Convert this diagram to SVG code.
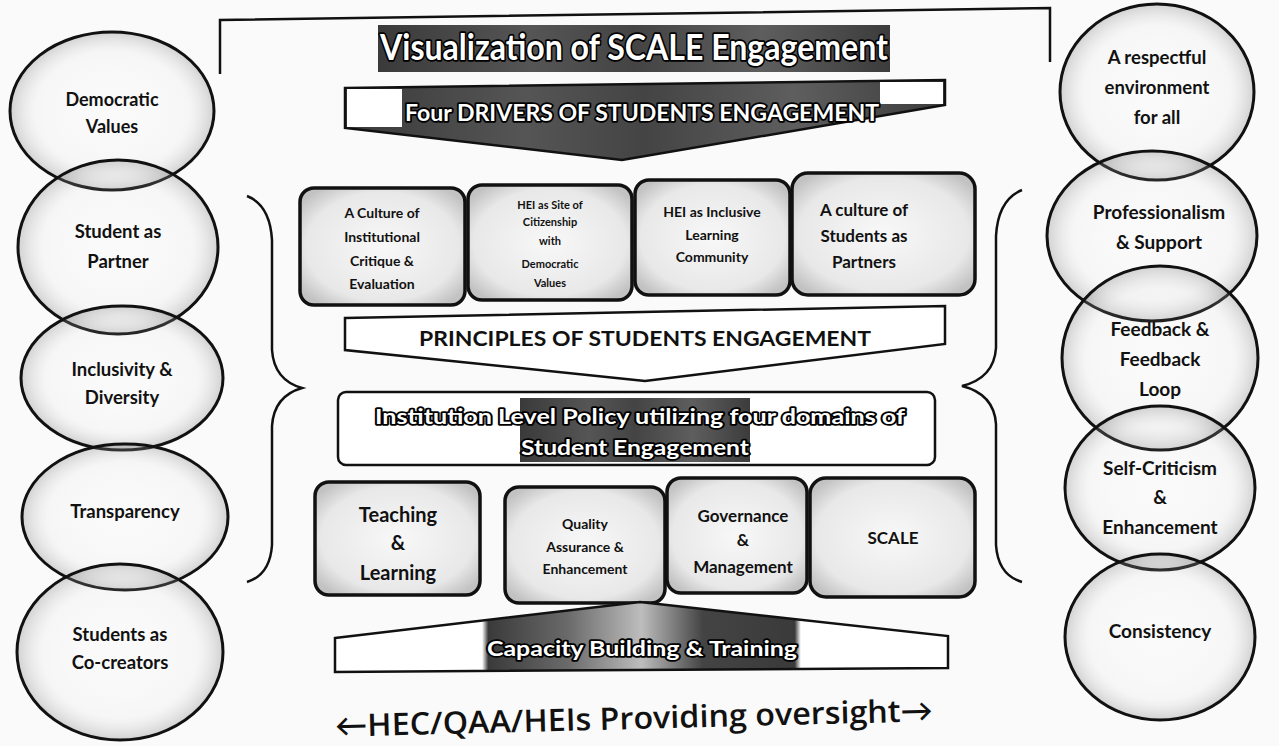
<svg xmlns="http://www.w3.org/2000/svg" width="1279" height="746" viewBox="0 0 1279 746">
<defs>
<radialGradient id="cg" cx="50%" cy="50%" r="50%">
<stop offset="0" stop-color="#ffffff" stop-opacity="0"/>
<stop offset="0.75" stop-color="#d8d8d8" stop-opacity="0.12"/>
<stop offset="1" stop-color="#7a7a7a" stop-opacity="0.32"/>
</radialGradient>
<radialGradient id="bg" cx="50%" cy="50%" r="62%">
<stop offset="0" stop-color="#f8f8f8"/>
<stop offset="0.75" stop-color="#e8e8e8"/>
<stop offset="1" stop-color="#c2c2c2"/>
</radialGradient>
<linearGradient id="dk" x1="0" y1="0" x2="1" y2="0">
<stop offset="0" stop-color="#3a3a3a"/>
<stop offset="0.3" stop-color="#555"/>
<stop offset="0.5" stop-color="#444"/>
<stop offset="0.75" stop-color="#5e5e5e"/>
<stop offset="1" stop-color="#3c3c3c"/>
</linearGradient>
<linearGradient id="cap" x1="0" y1="0" x2="1" y2="0">
<stop offset="0" stop-color="#fff"/>
<stop offset="0.24" stop-color="#fff"/>
<stop offset="0.25" stop-color="#3a3a3a"/>
<stop offset="0.38" stop-color="#6a6a6a"/>
<stop offset="0.5" stop-color="#bdbdbd"/>
<stop offset="0.6" stop-color="#444"/>
<stop offset="0.75" stop-color="#3a3a3a"/>
<stop offset="0.76" stop-color="#fff"/>
<stop offset="1" stop-color="#fff"/>
</linearGradient>
<style>
.c{fill:url(#cg);stroke:#111;stroke-width:3}
.b{fill:url(#bg);stroke:#111;stroke-width:3.5}
.t{font-family:Lato,"Open Sans","Liberation Sans",sans-serif;font-weight:bold;fill:#111;text-anchor:middle}
.o{font-family:Lato,"Open Sans","Liberation Sans",sans-serif;font-weight:bold;fill:#fff;stroke:#000;stroke-width:3.5;paint-order:stroke;stroke-linejoin:round;text-anchor:middle}
.ln{fill:none;stroke:#111;stroke-width:2.5}
</style>
</defs>
<rect width="1279" height="746" fill="#fafafa"/>

<!-- left circles -->
<g id="democratic-values"><ellipse class="c" cx="112" cy="111" rx="102" ry="79"/>
<text class="t" font-size="18" x="112" y="106">Democratic</text><text class="t" font-size="18" x="112" y="133">Values</text></g>
<g id="student-as-partner"><ellipse class="c" cx="118" cy="247" rx="100" ry="87"/>
<text class="t" font-size="18.5" x="118" y="238">Student as</text><text class="t" font-size="18.5" x="118" y="268">Partner</text></g>
<g id="inclusivity-diversity"><ellipse class="c" cx="122" cy="378" rx="101" ry="72"/>
<text class="t" font-size="18.5" x="122" y="376">Inclusivity &amp;</text><text class="t" font-size="18.5" x="122" y="404">Diversity</text></g>
<g id="transparency"><ellipse class="c" cx="125" cy="517" rx="103" ry="73"/>
<text class="t" font-size="18.5" x="125" y="518">Transparency</text></g>
<g id="students-co-creators"><ellipse class="c" cx="120" cy="652" rx="103" ry="88"/>
<text class="t" font-size="18.5" x="120" y="641">Students as</text><text class="t" font-size="18.5" x="120" y="669">Co-creators</text></g>

<!-- right circles -->
<g id="respectful-environment"><ellipse class="c" cx="1157" cy="92" rx="97" ry="88"/>
<text class="t" font-size="18.5" x="1157" y="64">A respectful</text><text class="t" font-size="18.5" x="1157" y="94">environment</text><text class="t" font-size="18.5" x="1157" y="124">for all</text></g>
<g id="professionalism-support"><ellipse class="c" cx="1152" cy="236" rx="105" ry="85"/>
<text class="t" font-size="19" x="1159" y="219">Professionalism</text><text class="t" font-size="19" x="1159" y="249">&amp; Support</text></g>
<g id="feedback-loop"><ellipse class="c" cx="1160" cy="358" rx="98" ry="92"/>
<text class="t" font-size="19" x="1160" y="336">Feedback &amp;</text><text class="t" font-size="19" x="1160" y="366">Feedback</text><text class="t" font-size="19" x="1160" y="396">Loop</text></g>
<g id="self-criticism"><ellipse class="c" cx="1160" cy="488" rx="95" ry="82"/>
<text class="t" font-size="19" x="1160" y="475">Self-Criticism</text><text class="t" font-size="19" x="1160" y="504">&amp;</text><text class="t" font-size="19" x="1160" y="534">Enhancement</text></g>
<g id="consistency"><ellipse class="c" cx="1160" cy="637" rx="95" ry="83"/>
<text class="t" font-size="19" x="1160" y="638">Consistency</text></g>

<!-- title -->
<g id="title">
<path class="ln" d="M220,74 L220,20 L1050,8 L1050,62"/>
<rect x="378" y="25" width="512" height="47" fill="url(#dk)"/>
<text class="o" font-size="36" x="634" y="60" textLength="508" lengthAdjust="spacingAndGlyphs">Visualization of SCALE Engagement</text>
</g>

<!-- four drivers -->
<g id="four-drivers">
<polygon points="345,88 945,80 945,105 622,160 345,128" fill="url(#dk)" stroke="#111" stroke-width="2.5"/>
<rect x="347" y="89" width="55" height="38" fill="#fff"/>
<rect x="880" y="82" width="63" height="22" fill="#fff"/>
<text class="o" font-size="22" x="642" y="121" textLength="474" lengthAdjust="spacingAndGlyphs">Four DRIVERS OF STUDENTS ENGAGEMENT</text>
</g>

<!-- drivers boxes -->
<g id="culture-critique"><rect class="b" x="300" y="188" width="165" height="117" rx="14"/>
<text class="t" font-size="14" x="382" y="218">A Culture of</text><text class="t" font-size="14" x="382" y="242">Institutional</text><text class="t" font-size="14" x="382" y="266">Critique &amp;</text><text class="t" font-size="14" x="382" y="289">Evaluation</text></g>
<g id="hei-citizenship"><rect class="b" x="468" y="185" width="164" height="115" rx="14"/>
<text class="t" font-size="11" x="550" y="209">HEI as Site of</text><text class="t" font-size="11" x="550" y="226">Citizenship</text><text class="t" font-size="11" x="550" y="245">with</text><text class="t" font-size="11" x="550" y="268">Democratic</text><text class="t" font-size="11" x="550" y="287">Values</text></g>
<g id="hei-inclusive"><rect class="b" x="635" y="180" width="155" height="115" rx="14"/>
<text class="t" font-size="14" x="712" y="217">HEI as Inclusive</text><text class="t" font-size="14" x="712" y="240">Learning</text><text class="t" font-size="14" x="712" y="262">Community</text></g>
<g id="culture-partners"><rect class="b" x="792" y="173" width="183" height="122" rx="16"/>
<text class="t" font-size="17" x="864" y="216">A culture of</text><text class="t" font-size="17" x="864" y="242">Students as</text><text class="t" font-size="17" x="864" y="268">Partners</text></g>

<!-- principles -->
<g id="principles">
<polygon points="345,318 945,306 945,344 645,381 345,350" fill="#fff" stroke="#111" stroke-width="2.5"/>
<text class="t" font-size="21" x="645" y="346" textLength="452" lengthAdjust="spacingAndGlyphs">PRINCIPLES OF STUDENTS ENGAGEMENT</text>
</g>

<!-- institution policy -->
<g id="institution-policy">
<rect x="338" y="392" width="597" height="73" rx="8" fill="#fff" stroke="#111" stroke-width="2.5"/>
<rect x="520" y="398" width="230" height="64" fill="url(#dk)"/>
<text class="o" font-size="21" x="640" y="424" textLength="530" lengthAdjust="spacingAndGlyphs">Institution Level Policy utilizing four domains of</text>
<text class="o" font-size="21" x="635" y="455" textLength="228" lengthAdjust="spacingAndGlyphs">Student Engagement</text>
</g>

<!-- domain boxes -->
<g id="teaching-learning"><rect class="b" x="315" y="482" width="165" height="113" rx="14"/>
<text class="t" font-size="20" x="398" y="522">Teaching</text><text class="t" font-size="20" x="398" y="550">&amp;</text><text class="t" font-size="20" x="398" y="580">Learning</text></g>
<g id="quality-assurance"><rect class="b" x="505" y="487" width="160" height="116" rx="14"/>
<text class="t" font-size="14" x="585" y="529">Quality</text><text class="t" font-size="14" x="585" y="552">Assurance &amp;</text><text class="t" font-size="14" x="585" y="574">Enhancement</text></g>
<g id="governance-management"><rect class="b" x="667" y="478" width="140" height="115" rx="14"/>
<text class="t" font-size="17" x="743" y="522">Governance</text><text class="t" font-size="17" x="743" y="546">&amp;</text><text class="t" font-size="17" x="743" y="573">Management</text></g>
<g id="scale"><rect class="b" x="810" y="478" width="165" height="119" rx="16"/>
<text class="t" font-size="17" x="893" y="544">SCALE</text></g>

<!-- capacity -->
<g id="capacity-building">
<polygon points="335,638 640,602 948,636 948,668 335,672" fill="url(#cap)" stroke="#111" stroke-width="2.5"/>
<text class="o" font-size="21" x="642" y="656" textLength="310" lengthAdjust="spacingAndGlyphs">Capacity Building &amp; Training</text>
</g>

<!-- braces -->
<g id="braces">
<path class="ln" d="M247,196 Q270,205 272,240 L272,350 Q274,380 302,388 Q274,396 272,426 L272,545 Q270,575 247,582"/>
<path class="ln" d="M1022,190 Q998,200 996,236 L996,348 Q994,378 962,386 Q994,394 996,424 L996,545 Q998,575 1022,582"/>
</g>

<!-- oversight -->
<g id="oversight">
<text class="t" x="634" y="729" font-size="31" textLength="598" lengthAdjust="spacingAndGlyphs" transform="rotate(-1.5 634 720)" style="font-family:'Open Sans',Lato,sans-serif;font-weight:600">←HEC/QAA/HEIs Providing oversight→</text>
</g>
<g id="connectors"/>
</svg>
